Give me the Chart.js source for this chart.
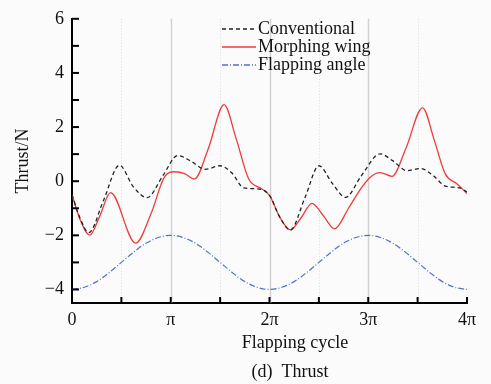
<!DOCTYPE html>
<html>
<head>
<meta charset="utf-8">
<script src="https://cdn.jsdelivr.net/npm/chart.js@4.4.1/dist/chart.umd.min.js"></script>
<style>
  html, body { margin: 0; padding: 0; background: #fbfbfb; }
  canvas { display: block; }
</style>
</head>
<body>
<canvas id="thrust-chart" width="491" height="384"></canvas>
<script>
// x values are in units of pi (0 .. 4 pi)
const cycleTicks = [0, 1, 2, 3, 4];
const cycleLabels = ['0', 'π', '2π', '3π', '4π'];
const thrustTicks = [-4, -2, 0, 2, 4, 6];

const convX = [0, 0.08, 0.17, 0.32, 0.48, 0.62, 0.76, 0.92, 1.07, 1.2, 1.35, 1.5, 1.62, 1.74, 1.87, 2.0,
               2.1, 2.21, 2.36, 2.5, 2.64, 2.77, 2.93, 3.12, 3.25, 3.39, 3.53, 3.66, 3.78, 3.93, 4.0];
const convY = [-0.5, -1.35, -1.9, -0.7, 0.59, -0.2, -0.61, 0.2, 0.95, 0.75, 0.44, 0.57, 0.3, -0.25, -0.28, -0.52,
               -1.3, -1.8, -0.6, 0.57, -0.1, -0.6, 0.2, 1.01, 0.75, 0.39, 0.47, 0.2, -0.18, -0.25, -0.4];

const morphX = [0, 0.08, 0.18, 0.28, 0.39, 0.645, 0.8, 0.94, 1.04, 1.14, 1.24, 1.38, 1.54, 1.66, 1.79, 1.92, 2.0,
                2.1, 2.21, 2.32, 2.43, 2.55, 2.66, 2.8, 2.92, 3.02, 3.12, 3.24, 3.38, 3.55, 3.67, 3.78, 3.9, 4.0];
const morphY = [-0.5, -1.4, -1.99, -1.3, -0.42, -2.29, -1.2, 0.18, 0.35, 0.28, 0.08, 1.2, 2.83, 1.6, 0.08, -0.28, -0.52,
                -1.3, -1.8, -1.35, -0.82, -1.3, -1.76, -1.0, -0.3, 0.15, 0.32, 0.18, 1.2, 2.71, 1.5, 0.27, -0.1, -0.46];

const flapX = [0, 0.125, 0.25, 0.375, 0.5, 0.625, 0.75, 0.875, 1, 1.125, 1.25, 1.375, 1.5, 1.625, 1.75, 1.875, 2,
               2.125, 2.25, 2.375, 2.5, 2.625, 2.75, 2.875, 3, 3.125, 3.25, 3.375, 3.5, 3.625, 3.75, 3.875, 4];
const flapY = [-4, -3.92, -3.71, -3.38, -3, -2.62, -2.29, -2.08, -2, -2.08, -2.29, -2.62, -3, -3.38, -3.71, -3.92, -4,
               -3.92, -3.71, -3.38, -3, -2.62, -2.29, -2.08, -2, -2.08, -2.29, -2.62, -3, -3.38, -3.71, -3.92, -4];

const serif = '"Liberation Serif", "Times New Roman", serif';
const toPoints = (xs, ys) => xs.map((x, i) => ({ x: x, y: ys[i] }));

const seriesLegend = [
  { label: 'Conventional', color: '#222222', dash: [4, 3] },
  { label: 'Morphing wing', color: '#ef3b3b', dash: [] },
  { label: 'Flapping angle', color: '#4f72c6', dash: [6, 2, 1, 2] }
];

const decorations = {
  id: 'decorations',
  beforeDatasetsDraw(chart) {
    const { ctx, chartArea: a, scales: { x } } = chart;
    ctx.save();
    for (let v = 0.5; v < 4; v += 0.5) {
      const px = Math.round(x.getPixelForValue(v)) + 0.5;
      ctx.beginPath();
      if (v % 1 === 0) {
        ctx.strokeStyle = '#d2d2d2';
        ctx.lineWidth = 1.5;
        ctx.setLineDash([]);
      } else {
        ctx.strokeStyle = '#dddddd';
        ctx.lineWidth = 1;
        ctx.setLineDash([1, 2]);
      }
      ctx.moveTo(px, a.top);
      ctx.lineTo(px, a.bottom);
      ctx.stroke();
    }
    ctx.restore();
  },
  afterDraw(chart) {
    const { ctx, chartArea: a, scales: { x, y } } = chart;
    ctx.save();
    ctx.strokeStyle = '#000';
    ctx.lineWidth = 2;
    ctx.setLineDash([]);
    // inward ticks
    for (let v = -4; v <= 6; v += 1) {
      const py = y.getPixelForValue(v);
      ctx.beginPath();
      ctx.moveTo(a.left, py);
      ctx.lineTo(a.left + 7, py);
      ctx.stroke();
    }
    for (let v = 0.5; v <= 4; v += 0.5) {
      const px = x.getPixelForValue(v);
      ctx.beginPath();
      ctx.moveTo(px, a.bottom);
      ctx.lineTo(px, a.bottom - 6);
      ctx.stroke();
    }
    // legend
    ctx.font = '18px ' + serif;
    ctx.textBaseline = 'middle';
    ctx.fillStyle = '#111';
    seriesLegend.forEach((s, i) => {
      const ly = 29 + i * 18;
      ctx.beginPath();
      ctx.strokeStyle = s.color;
      ctx.lineWidth = 1.3;
      ctx.setLineDash(s.dash);
      ctx.moveTo(222, ly);
      ctx.lineTo(256, ly);
      ctx.stroke();
      ctx.fillText(s.label, 258, ly);
    });
    // axis title and caption
    ctx.textAlign = 'center';
    ctx.fillText('Flapping cycle', 295, 343);
    ctx.fillText('(d)  Thrust', 290, 372);
    ctx.restore();
  }
};

const ctx = document.getElementById('thrust-chart').getContext('2d');
new Chart(ctx, {
  type: 'line',
  data: {
    datasets: [
      {
        label: 'Conventional',
        data: toPoints(convX, convY),
        borderColor: '#222222',
        borderWidth: 1.3,
        borderDash: [4, 3],
        pointRadius: 0,
        cubicInterpolationMode: 'monotone'
      },
      {
        label: 'Morphing wing',
        data: toPoints(morphX, morphY),
        borderColor: '#ef3b3b',
        borderWidth: 1.3,
        pointRadius: 0,
        cubicInterpolationMode: 'monotone'
      },
      {
        label: 'Flapping angle',
        data: toPoints(flapX, flapY),
        borderColor: '#4f72c6',
        borderWidth: 1.2,
        borderDash: [6, 2, 1, 2],
        pointRadius: 0,
        cubicInterpolationMode: 'monotone'
      }
    ]
  },
  options: {
    responsive: false,
    animation: false,
    layout: { padding: { top: 13, right: 24, left: 0, bottom: 0 } },
    plugins: {
      legend: { display: false },
      tooltip: { enabled: false }
    },
    scales: {
      x: {
        type: 'linear',
        min: 0,
        max: 4,
        afterBuildTicks: (scale) => { scale.ticks = cycleTicks.map(v => ({ value: v })); },
        afterFit: (scale) => { scale.height = 81; },
        grid: { display: true, color: 'transparent', drawTicks: false },
        border: { display: true, color: '#000', width: 2 },
        ticks: {
          padding: 6,
          color: '#111',
          maxRotation: 0,
          font: { family: serif, size: 18 },
          callback: (v) => cycleLabels[cycleTicks.indexOf(v)]
        }
      },
      y: {
        min: -4.5,
        max: 6,
        afterBuildTicks: (scale) => { scale.ticks = thrustTicks.map(v => ({ value: v })); },
        afterFit: (scale) => { scale.width = 72; },
        grid: { display: true, color: 'transparent', drawTicks: false },
        border: { display: true, color: '#000', width: 2 },
        ticks: {
          padding: 8,
          color: '#111',
          font: { family: serif, size: 18 },
          callback: (v) => (v < 0 ? '−' + Math.abs(v) : String(v))
        },
        title: {
          display: true,
          text: 'Thrust/N',
          color: '#111',
          font: { family: serif, size: 18 },
          padding: { top: 12, bottom: 0 }
        }
      }
    }
  },
  plugins: [decorations]
});
</script>
</body>
</html>
